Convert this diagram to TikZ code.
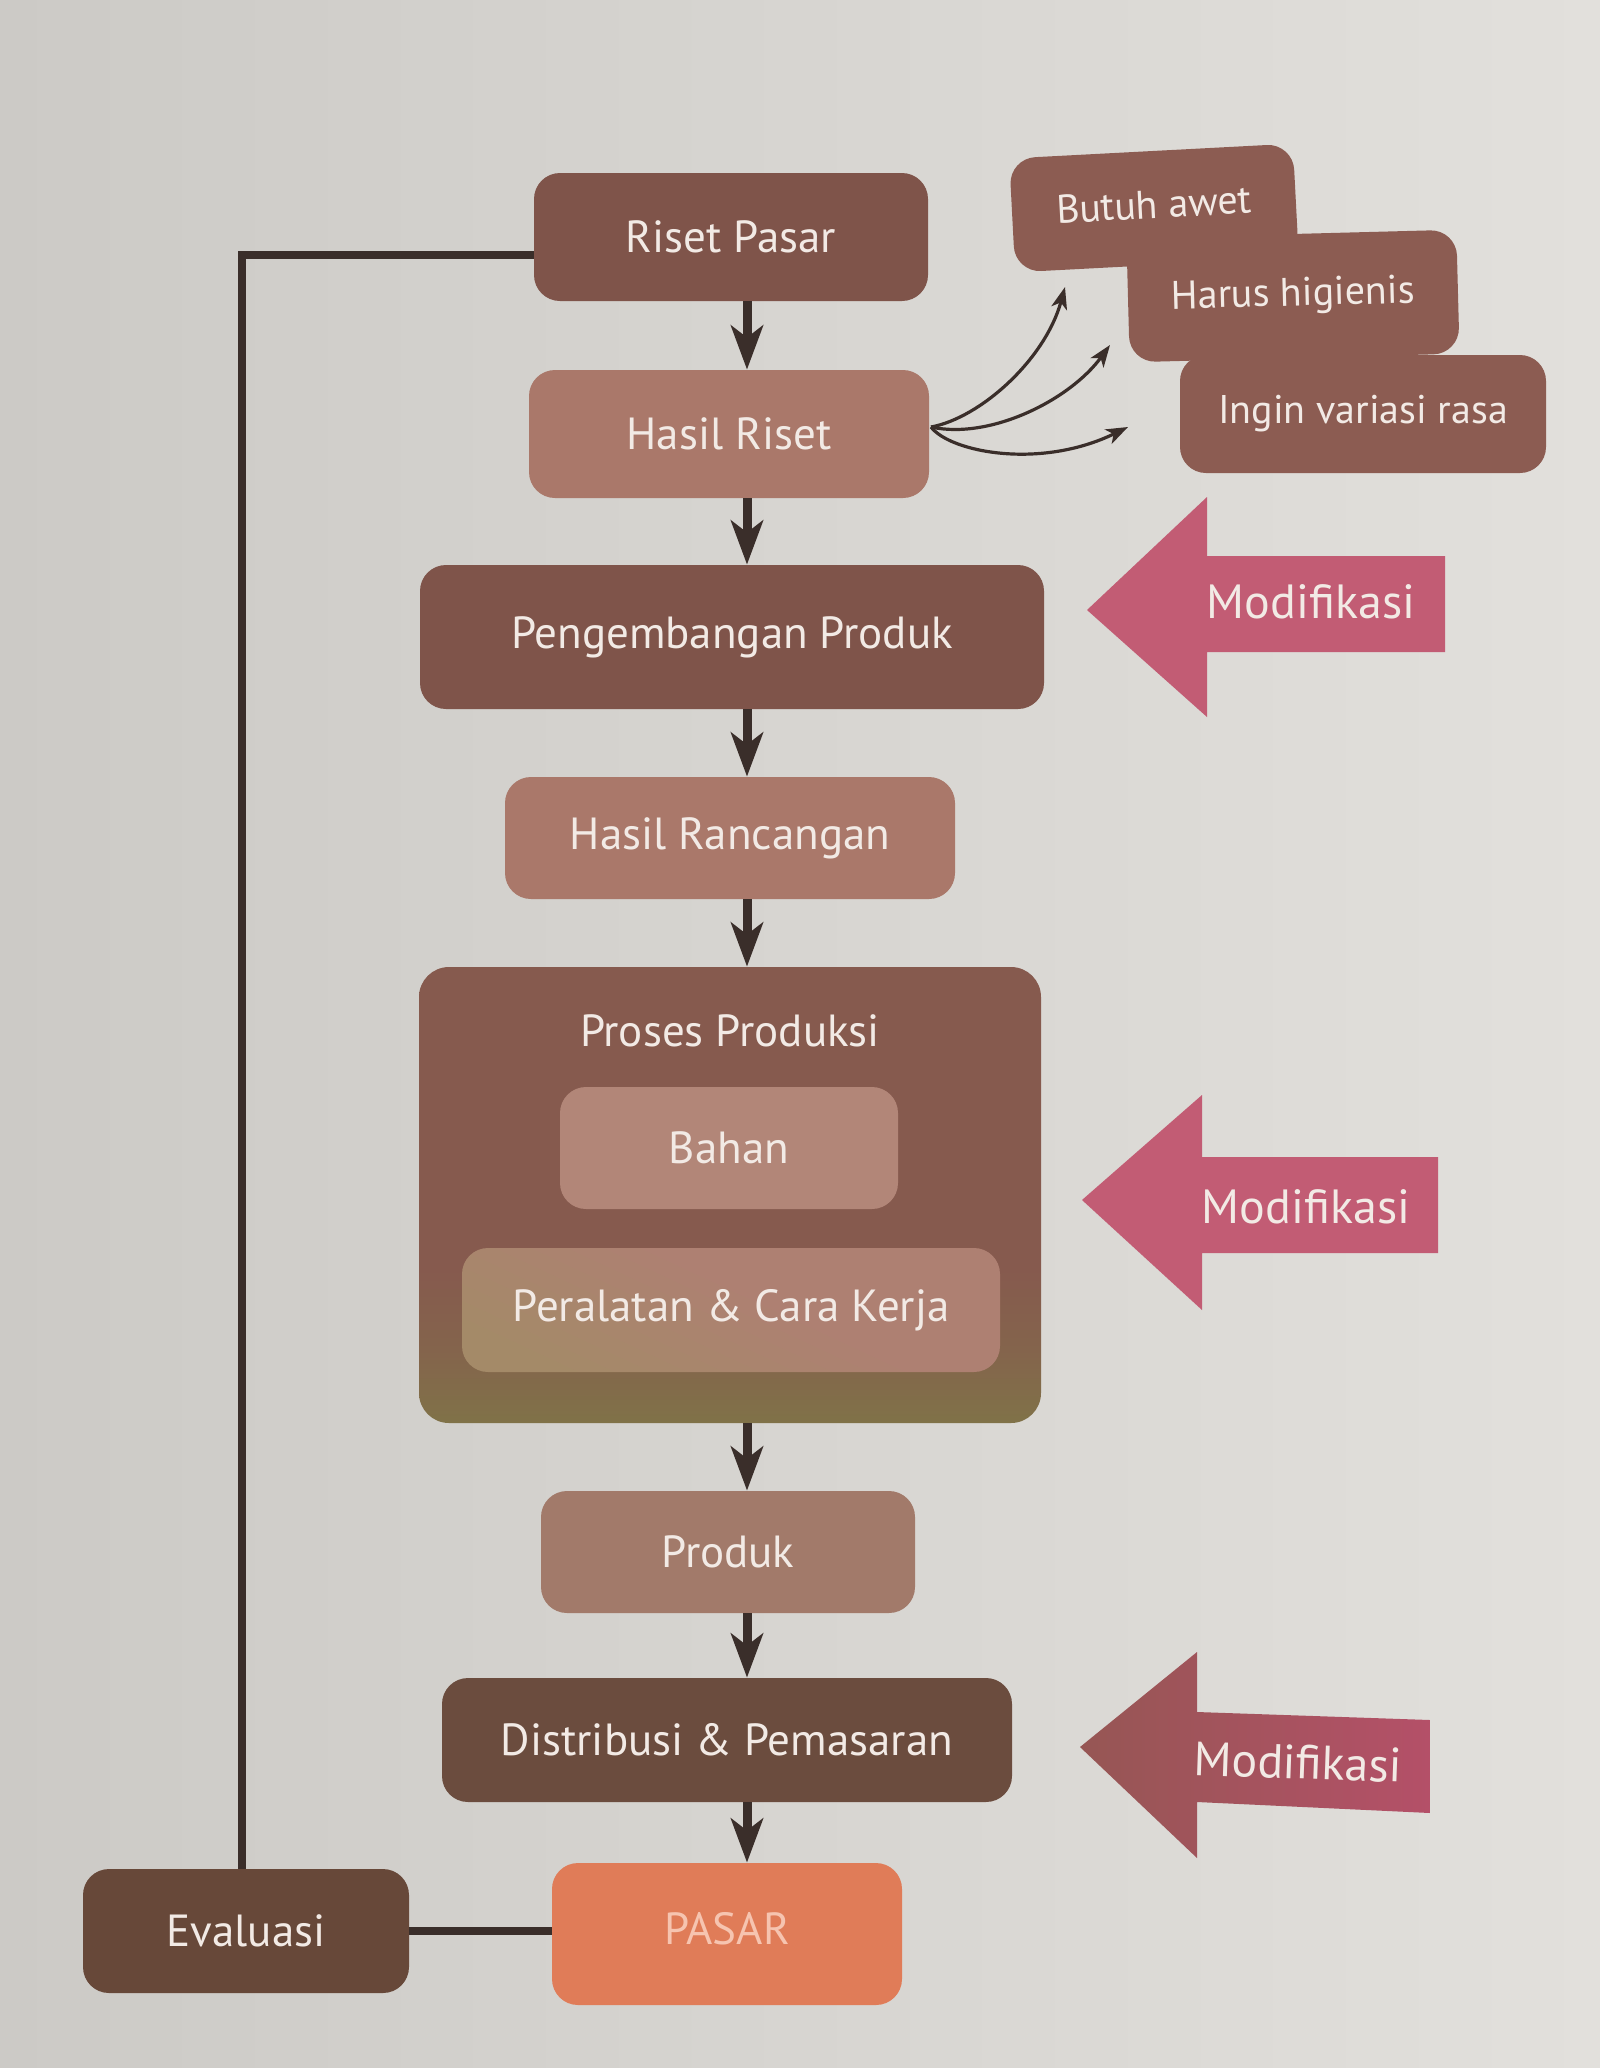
\documentclass[tikz,border=0pt]{standalone}
\usepackage{fontspec}
\setmainfont{PT Sans}
\usetikzlibrary{arrows.meta,shapes.geometric}
\definecolor{paperL}{RGB}{204,202,198}
\definecolor{paperR}{RGB}{226,224,220}
\definecolor{dk}{RGB}{127,84,74}
\definecolor{lt}{RGB}{170,120,106}
\definecolor{procT}{RGB}{134,90,78}
\definecolor{procM}{RGB}{132,100,76}
\definecolor{procB}{RGB}{128,114,72}
\definecolor{bahanC}{RGB}{178,134,120}
\definecolor{alatT}{RGB}{174,128,114}
\definecolor{alatB}{RGB}{164,138,104}
\definecolor{produkC}{RGB}{162,122,106}
\definecolor{distC}{RGB}{107,76,62}
\definecolor{pasarC}{RGB}{224,124,88}
\definecolor{evalC}{RGB}{103,72,57}
\definecolor{resC}{RGB}{140,92,82}
\definecolor{modC}{RGB}{194,92,116}
\definecolor{modL}{RGB}{150,86,84}
\definecolor{modR}{RGB}{180,80,104}
\definecolor{ln}{RGB}{58,46,42}
\definecolor{txt}{RGB}{242,234,229}
\definecolor{pasarT}{RGB}{246,196,176}
\pgfdeclareverticalshading{procshade}{100bp}{color(0bp)=(procB); color(25bp)=(procB); color(33bp)=(procM); color(42bp)=(procT); color(100bp)=(procT)}
\pgfdeclareverticalshading{alatshade}{100bp}{color(0bp)=(alatB); color(25bp)=(alatB); color(55bp)=(alatT); color(100bp)=(alatT)}
\tikzset{
  box/.style={rounded corners=13pt, inner sep=0pt, text=txt, align=center,
    font=\fontsize{22.5}{26}\selectfont},
  smallbox/.style={box, font=\fontsize{20}{24}\selectfont},
  mainarr/.style={draw=ln, line width=4.5pt,
    -{Stealth[length=22pt,width=16pt,inset=6pt]}},
  thinarr/.style={draw=ln, line width=1.6pt,
    -{Stealth[length=11pt,width=8pt,inset=3pt]}},
  fbline/.style={draw=ln, line width=4pt},
  modtext/.style={text=txt, font=\fontsize{24}{28}\selectfont, inner sep=0pt}
}
\begin{document}
\begin{tikzpicture}[x=0.5pt,y=-0.5pt]
\useasboundingbox (0,0) rectangle (1600,2068);
\shade[left color=paperL, right color=paperR] (0,0) rectangle (1600,2068);

% main column
\node[box, fill=dk, minimum width=197pt, minimum height=64pt] (rp) at (731,237) {Riset Pasar};
\node[box, fill=lt, minimum width=200pt, minimum height=64pt] (hr) at (729,434) {Hasil Riset};
\node[box, fill=dk, minimum width=312pt, minimum height=72pt] (pp) at (732,637) {Pengembangan Produk};
\node[box, fill=lt, minimum width=225pt, minimum height=61pt] (hrc) at (730,838) {Hasil Rancangan};
\node[box, rounded corners=15pt, shading=procshade,
      minimum width=311pt, minimum height=228pt] (proses) at (730,1195) {};
\node[box] (ptitle) at (730,1031) {Proses Produksi};
\node[box, fill=bahanC, minimum width=169pt, minimum height=61pt] (bahan) at (729,1148) {Bahan};
\node[box, shading=alatshade, shading angle=-25, minimum width=269pt, minimum height=62pt] (alat) at (731,1310) {Peralatan \& Cara Kerja};
\node[box, fill=produkC, minimum width=187pt, minimum height=61pt] (produk) at (728,1552) {Produk};
\node[box, fill=distC, minimum width=285pt, minimum height=62pt] (dist) at (727,1740) {Distribusi \& Pemasaran};
\node[box, fill=pasarC, text=pasarT, minimum width=175pt, minimum height=71pt] (pasar) at (727,1934) {\raisebox{6pt}{PASAR}};
\node[box, fill=evalC, minimum width=163pt, minimum height=62pt] (eval) at (246,1931) {Evaluasi};

% research results
\node[smallbox, fill=resC, rotate=3, minimum width=142pt, minimum height=57pt] (butuh) at (1154,208) {\raisebox{4pt}{Butuh awet}};
\node[smallbox, fill=resC, rotate=1.5, minimum width=165pt, minimum height=62pt] (harus) at (1293,296) {Harus higienis};
\node[smallbox, fill=resC, minimum width=183pt, minimum height=59pt] (ingin) at (1363,414) {Ingin variasi rasa};

% column of arrows
\coordinate (colx) at (747,0);
\draw[mainarr] (rp.south -| colx) -- (hr.north -| colx);
\draw[mainarr] (hr.south -| colx) -- (pp.north -| colx);
\draw[mainarr] (pp.south -| colx) -- (hrc.north -| colx);
\draw[mainarr] (hrc.south -| colx) -- (proses.north -| colx);
\draw[mainarr] (proses.south -| colx) -- (produk.north -| colx);
\draw[mainarr] (produk.south -| colx) -- (dist.north -| colx);
\draw[mainarr] (dist.south -| colx) -- (pasar.north -| colx);

% curved arrows
\coordinate (hrout) at (931,427);
\coordinate (tb) at (1065,287);
\coordinate (th) at (1110,345);
\coordinate (ti) at (1128,427);
\draw[thinarr] (hrout) .. controls (980,418) and (1045,360) .. (tb);
\draw[thinarr] (hrout) .. controls (990,440) and (1070,400) .. (th);
\draw[thinarr] (hrout) .. controls (950,452) and (1040,470) .. (ti);

% feedback loop
\coordinate (fbc) at (242,255);
\draw[fbline] (eval.north -| fbc) -- (fbc) -- (rp.west |- fbc);
\draw[fbline] (eval.east) -- (eval.east -| pasar.west);

% Modifikasi arrows
\fill[modC] (1087,610) -- (1207,497) -- (1207,556) -- (1445,556) -- (1445,652) -- (1207,652) -- (1207,717) -- cycle;
\node[modtext] (m1) at (1311,602) {Modifikasi};
\fill[modC] (1082,1200) -- (1202,1095) -- (1202,1157) -- (1438,1157) -- (1438,1253) -- (1202,1253) -- (1202,1310) -- cycle;
\node[modtext] (m2) at (1306,1207) {Modifikasi};
\shade[left color=modL, right color=modR] (1080,1747) -- (1197,1652) -- (1197,1712) -- (1430,1720) -- (1430,1813) -- (1197,1802) -- (1197,1858) -- cycle;
\node[modtext, rotate=-2] (m3) at (1298,1762) {Modifikasi};
\end{tikzpicture}
\end{document}
